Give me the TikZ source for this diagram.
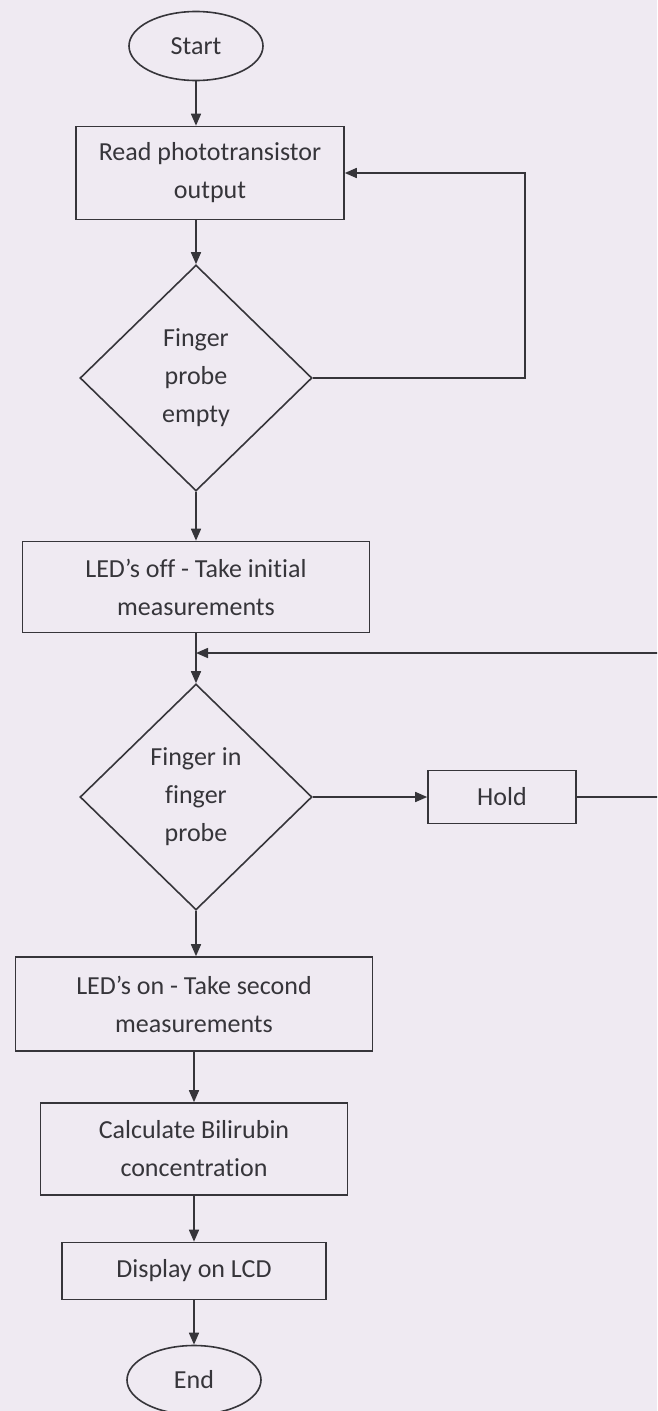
\documentclass[tikz,border=0pt]{standalone}
\usepackage{fontspec}
\setmainfont{Carlito}[Ligatures={TeX,NoCommon}]
\usetikzlibrary{arrows.meta,shapes.geometric}
\definecolor{ink}{HTML}{36353A}
\definecolor{paper}{HTML}{EFEAF2}

\begin{document}
\begin{tikzpicture}[x=1pt,y=-1pt,
  every node/.style={font=\fontsize{26}{38}\selectfont,text=ink},
  term/.style={ellipse,draw=ink,line width=1.6pt,minimum width=134pt,minimum height=69pt,inner sep=0pt},
  proc/.style={rectangle,draw=ink,line width=1.6pt,align=center,inner sep=0pt},
  test/.style={diamond,draw=ink,line width=1.6pt,align=center,inner sep=0pt,minimum width=232pt,minimum height=226pt},
  flow/.style={draw=ink,line width=1.6pt,-{Triangle[length=12pt,width=10pt]}}]
  \fill[paper] (0,0) rectangle (657,1411);
  \useasboundingbox (0,0) rectangle (657,1411);
  \clip (0,0) rectangle (657,1411);
  % main column
  \node[term] (start) at (196,46) {Start};
  \node[proc,minimum width=268pt,minimum height=93pt] (read) at (210,173) {Read phototransistor\\output};
  \node[test] (empty) at (196,378) {Finger\\probe\\empty};
  \node[proc,minimum width=347pt,minimum height=91pt] (ledoff) at (196,587) {LED’s off - Take initial\\measurements};
  \node[test] (inprobe) at (196,797) {Finger in\\finger\\probe};
  \node[proc,minimum width=148pt,minimum height=53pt] (hold) at (502,797) {Hold};
  \node[proc,minimum width=357pt,minimum height=94pt] (ledon) at (194,1004) {LED's on - Take second\\measurements};
  \node[proc,minimum width=307pt,minimum height=92pt] (calc) at (194,1149) {Calculate Bilirubin\\concentration};
  \node[proc,minimum width=264pt,minimum height=57pt] (lcd) at (194,1271) {Display on LCD};
  \node[term] (end) at (194,1380) {End};
  \coordinate (merge) at (196,653);
  % connectors
  \draw[flow] (start) -- (start |- read.north);
  \draw[flow] (empty |- read.south) -- (empty);
  \draw[flow] (empty.east) -- ++(212,0) |- (read.east);
  \draw[flow] (empty) -- (ledoff);
  \draw[flow] (ledoff) -- (inprobe);
  \draw[flow] (hold.east) -- ++(110,0) |- (merge);
  \draw[flow] (inprobe) -- (hold);
  \draw[flow] (inprobe.south) -- (inprobe.south |- ledon.north);
  \draw[flow] (ledon) -- (calc);
  \draw[flow] (calc) -- (lcd);
  \draw[flow] (lcd) -- (end);
\end{tikzpicture}
\end{document}
